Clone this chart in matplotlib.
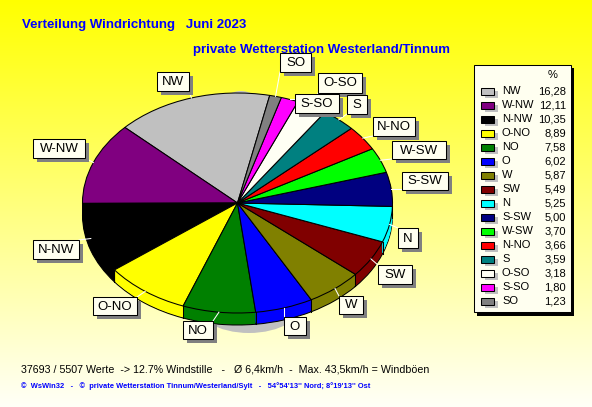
import numpy as np
import matplotlib
matplotlib.use('Agg')
import matplotlib.pyplot as plt
from matplotlib.patches import Rectangle, Ellipse

plt.rcParams['font.family'] = ['Liberation Sans', 'DejaVu Sans']

# data, biggest first as in the legend
names = ['NW', 'W-NW', 'N-NW', 'O-NO', 'NO', 'O', 'W', 'SW', 'N', 'S-SW', 'W-SW', 'N-NO', 'S', 'O-SO', 'S-SO', 'SO']
values = [16.28, 12.11, 10.35, 8.89, 7.58, 6.02, 5.87, 5.49, 5.25, 5.00, 3.70, 3.66, 3.59, 3.18, 1.80, 1.23]
colors = ['#c0c0c0', '#800080', '#000000', '#ffff00', '#008000', '#0000ff', '#808000', '#800000',
          '#00ffff', '#000080', '#00ff00', '#ff0000', '#008080', '#fffff4', '#ff00ff', '#808080']

# label boxes in pixels: left, top, right, bottom
boxes = {
    'NW': (157, 72, 189, 91), 'W-NW': (33, 139, 85, 158), 'N-NW': (33, 240, 79, 259),
    'O-NO': (93, 297, 137, 315), 'NO': (183, 321, 213, 339), 'O': (284, 317, 306, 335),
    'W': (339, 296, 363, 314), 'SW': (378, 265, 412, 284), 'N': (398, 228, 418, 248),
    'S-SW': (402, 172, 448, 190), 'W-SW': (392, 141, 446, 159), 'N-NO': (373, 117, 415, 136),
    'S': (347, 95, 367, 114), 'S-SO': (295, 94, 339, 113), 'O-SO': (318, 73, 362, 93),
    'SO': (280, 53, 311, 72),
}

W, H = 592, 407
cx, cy, rx, ry = 237.5, 203.0, 155.0, 110.0
depth = 12
start = 78
line = 0.75

fig = plt.figure(figsize=(W / 100, H / 100), dpi=100)

# background
bg = fig.add_axes([0, 0, 1, 1], zorder=0)
grad = np.ones((H, 1, 3))
grad[:, 0, 2] = np.linspace(0, 0.97, H)
bg.imshow(grad, aspect='auto', extent=(0, W, H, 0))
bg.set_xlim(0, W)
bg.set_ylim(H, 0)
bg.axis('off')
bg.add_patch(Ellipse((249, 300), 112, 66, color='#c0c0c0', lw=0))
bg.add_patch(Ellipse((241, 130), 60, 78, color='#c0c0c0', lw=0))

# pie, in unit circle coordinates stretched to the ellipse
ax = fig.add_axes([0, 0, 1, 1], zorder=1)
ax.patch.set_alpha(0)
ax.pie(values, colors=colors, startangle=start, center=(0, -depth / ry),
       wedgeprops={'edgecolor': 'black', 'linewidth': line})
for d in range(depth - 1, 0, -1):
    ax.pie(values, colors=colors, startangle=start, center=(0, -d / ry),
           wedgeprops={'linewidth': 0})

edges = start + np.cumsum([0] + values) / sum(values) * 360
for a in np.radians(edges[:-1]):
    if np.sin(a) < 0:
        ax.plot([np.cos(a), np.cos(a)], [np.sin(a), np.sin(a) - depth / ry], color='black', lw=line)

ax.pie(values, colors=colors, startangle=start,
       wedgeprops={'edgecolor': 'black', 'linewidth': line})
ax.set_aspect('auto')
ax.set_xlim(-cx / rx, (W - cx) / rx)
ax.set_ylim((cy - H) / ry, cy / ry)
ax.axis('off')

# everything else in pixel coordinates
top = fig.add_axes([0, 0, 1, 1], zorder=2)
top.patch.set_alpha(0)
top.set_xlim(0, W)
top.set_ylim(H, 0)
top.axis('off')

mids = np.radians((edges[:-1] + edges[1:]) / 2)
for name, a in zip(names, mids):
    x0, y0, x1, y1 = boxes[name]
    px = cx + rx * np.cos(a)
    py = cy - ry * np.sin(a)
    top.plot([px, np.clip(px, x0, x1)], [py, np.clip(py, y0, y1)], color='white', lw=line, zorder=2)
    top.add_patch(Rectangle((x0 + 4, y0 + 4), x1 - x0, y1 - y0, color='#808080', lw=0, zorder=3))
    top.add_patch(Rectangle((x0, y0), x1 - x0, y1 - y0, facecolor='#fffff0', edgecolor='black', lw=line, zorder=4))
    top.text((x0 + x1) / 2, (y0 + y1) / 2 + 0.5, name, ha='center', va='center', fontsize=9.5, color='black', zorder=5)

# legend
top.add_patch(Rectangle((477, 68), 97, 248, color='black', lw=0, zorder=3))
top.add_patch(Rectangle((474, 65), 97, 247, facecolor='#fffff0', edgecolor='black', lw=line, zorder=4))
top.text(553, 75, '%', ha='center', va='center', fontsize=8, zorder=5)
for i, (name, val, col) in enumerate(zip(names, values, colors)):
    y = 91 + i * 14
    top.add_patch(Rectangle((485, y - 0.5), 13, 7, color='#c0c0c0', lw=0, zorder=5))
    top.add_patch(Rectangle((481, y - 3.5), 13, 7, facecolor=col, edgecolor='black', lw=line, zorder=6))
    top.text(502, y + 0.5, name, ha='left', va='center', fontsize=8, zorder=6)
    top.text(566, y + 0.5, ('%.2f' % val).replace('.', ','), ha='right', va='center', fontsize=8, zorder=6)

# titles and footer
top.text(22, 25, 'Verteilung Windrichtung   Juni 2023', color='#0000ff', fontsize=9.5, fontweight='bold', va='center')
top.text(193, 49.5, 'private Wetterstation Westerland/Tinnum', color='#0000ff', fontsize=9.55, fontweight='bold', va='center', zorder=1)
top.text(21, 369.5, '37693 / 5507 Werte  -> 12.7% Windstille   -   Ø 6,4km/h  -  Max. 43,5km/h = Windböen',
         color='black', fontsize=7.65, va='center')
top.text(21, 386, "©  WsWin32   -   ©  private Wetterstation Tinnum/Westerland/Sylt   -   54°54'13'' Nord; 8°19'13'' Ost",
         color='#0000ff', fontsize=5.4, fontweight='bold', va='center')

fig.savefig('out.png', dpi=100)
